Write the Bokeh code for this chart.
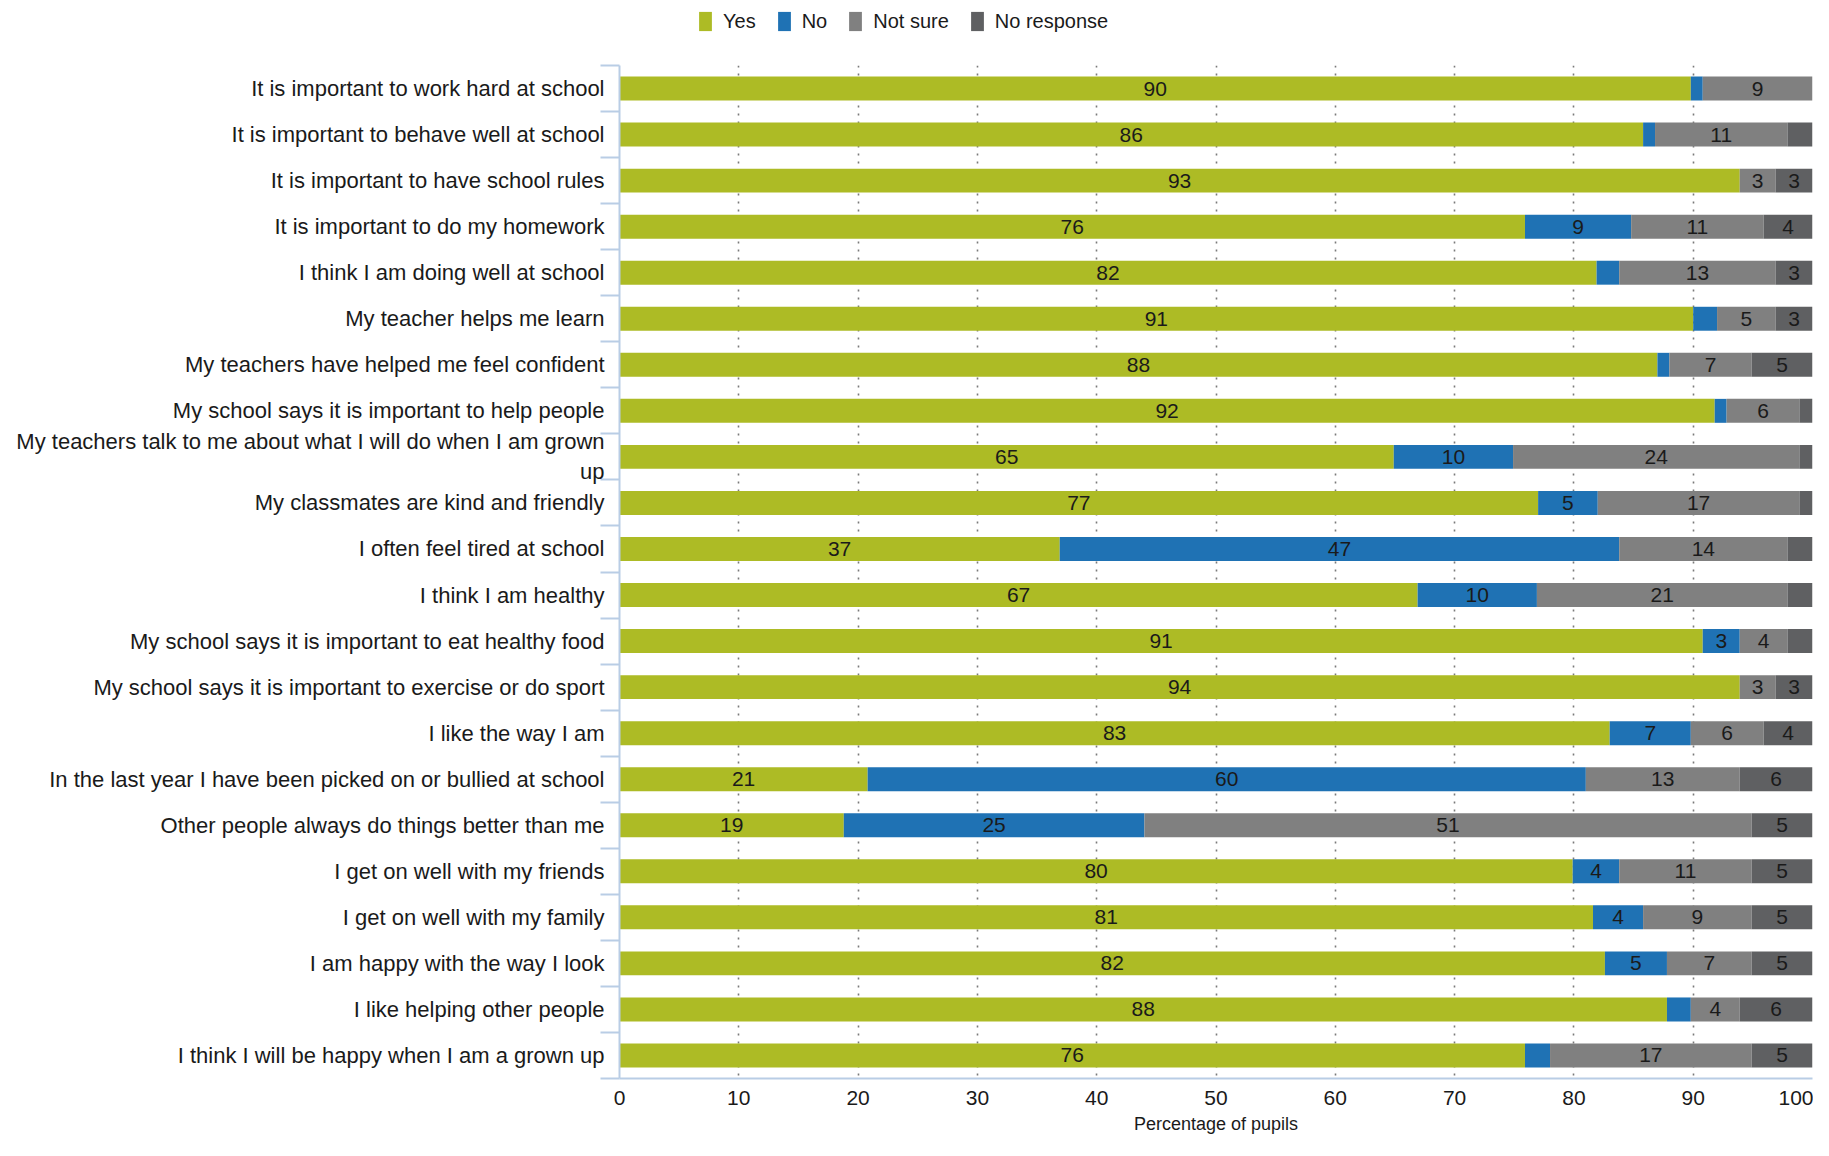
import numpy as np
from bokeh.plotting import figure
from bokeh.layouts import column
from bokeh.models import ColumnDataSource, Range1d, FixedTicker, Legend, LegendItem
from bokeh.core.properties import value
from bokeh.embed import file_html
from bokeh.resources import INLINE

categories = [
    "It is important to work hard at school",
    "It is important to behave well at school",
    "It is important to have school rules",
    "It is important to do my homework",
    "I think I am doing well at school",
    "My teacher helps me learn",
    "My teachers have helped me feel confident",
    "My school says it is important to help people",
    "My teachers talk to me about what I will do when I am grown\nup",
    "My classmates are kind and friendly",
    "I often feel tired at school",
    "I think I am healthy",
    "My school says it is important to eat healthy food",
    "My school says it is important to exercise or do sport",
    "I like the way I am",
    "In the last year I have been picked on or bullied at school",
    "Other people always do things better than me",
    "I get on well with my friends",
    "I get on well with my family",
    "I am happy with the way I look",
    "I like helping other people",
    "I think I will be happy when I am a grown up",
]

yes = [89.8, 85.8, 93.9, 75.9, 81.9, 90.0, 87.0, 91.8, 64.9, 77.0, 36.9,
       66.9, 90.8, 93.9, 83.0, 20.8, 18.8, 79.9, 81.6, 82.6, 87.8, 75.9]
no = [1.0, 1.0, 0.0, 8.9, 1.9, 2.0, 1.0, 1.0, 10.0, 5.0, 46.9,
      10.0, 3.1, 0.0, 6.8, 60.2, 25.2, 3.9, 4.2, 5.2, 2.0, 2.1]
not_sure = [9.2, 11.1, 3.0, 11.1, 13.1, 4.9, 6.9, 6.1, 24.0, 16.9, 14.1,
            21.0, 4.0, 3.0, 6.1, 12.9, 50.9, 11.1, 9.1, 7.1, 4.1, 16.9]
no_response = [0.0, 2.1, 3.1, 4.1, 3.1, 3.1, 5.1, 1.1, 1.1, 1.1, 2.1,
               2.1, 2.1, 3.1, 4.1, 6.1, 5.1, 5.1, 5.1, 5.1, 6.1, 5.1]

yes_labels = [90, 86, 93, 76, 82, 91, 88, 92, 65, 77, 37, 67, 91, 94, 83, 21, 19, 80, 81, 82, 88, 76]
no_labels = [None, None, None, 9, None, None, None, None, 10, 5, 47, 10, 3, None, 7, 60, 25, 4, 4, 5, None, None]
not_sure_labels = [9, 11, 3, 11, 13, 5, 7, 6, 24, 17, 14, 21, 4, 3, 6, 13, 51, 11, 9, 7, 4, 17]
no_response_labels = [None, None, 3, 4, 3, 3, 5, None, None, None, None, None, None, 3, 4, 6, 5, 5, 5, 5, 6, 5]

series_names = ["Yes", "No", "Not sure", "No response"]
x_ticks = [0, 10, 20, 30, 40, 50, 60, 70, 80, 90, 100]

FONT = "Liberation Sans"
AXIS_BLUE = "#b9cde5"
colors = ["#adbb25", "#1f72b4", "#808080", "#5f6062"]

n = len(categories)
idx = list(range(n))

LEG_H = 40
TOTAL_H = 1136

# ---- main chart ----
p = figure(width=1813, height=TOTAL_H - LEG_H,
           x_range=Range1d(0, 100), y_range=Range1d(n - 0.5, -0.5),
           output_backend="svg", toolbar_location=None,
           min_border_left=619, min_border_right=1, min_border_top=65 - LEG_H,
           min_border_bottom=0)
p.outline_line_color = None
p.background_fill_color = "white"

# ---- legend strip ----
lp = figure(width=1813, height=LEG_H, x_range=Range1d(0, 100), y_range=Range1d(n - 0.5, -0.5),
            output_backend="svg", toolbar_location=None,
            x_axis_type=None, y_axis_type=None, min_border=0,
            min_border_left=619, min_border_right=1)
lp.outline_line_color = None
lp.xgrid.visible = False
lp.ygrid.visible = False

series_vals = [yes, no, not_sure, no_response]
series_lbls = [yes_labels, no_labels, not_sure_labels, no_response_labels]

left = np.zeros(n)
leg_items = []
for name, vals, lbls, col in zip(series_names, series_vals, series_lbls, colors):
    v = np.array(vals, dtype=float)
    src = ColumnDataSource(dict(y=idx, left=left, right=left + v))
    p.hbar(y="y", left="left", right="right", height=0.52, source=src,
           fill_color=col, line_color=None)
    # zero-width copy, used only to give the legend its swatch
    rr = lp.hbar(y="y", left="left", right="left", height=0.52, source=src,
                 fill_color=col, line_color=None)
    leg_items.append(LegendItem(label=name, renderers=[rr]))
    mids = left + v / 2
    tx, ty, tt = [], [], []
    for i in range(n):
        if lbls[i] is not None:
            tx.append(mids[i]); ty.append(i); tt.append(str(lbls[i]))
    tsrc = ColumnDataSource(dict(x=tx, y=ty, t=tt))
    p.text(x="x", y="y", text="t", source=tsrc, text_align="center",
           text_baseline="middle", text_font=value(FONT),
           text_font_size="21px", text_color="#1a1a1a")
    left = left + v

legend = Legend(items=leg_items, orientation="horizontal", location=(78, LEG_H - 33),
                glyph_width=16, glyph_height=24, label_text_font=FONT,
                label_text_font_size="20px", label_text_color="#1a1a1a",
                label_standoff=10, spacing=20, padding=0, margin=0,
                border_line_color=None, background_fill_alpha=0)
lp.add_layout(legend)

# grid
p.ygrid.grid_line_color = None
p.xgrid.grid_line_color = "#7a7a7a"
p.xgrid.grid_line_dash = "2 6"
p.xgrid.grid_line_width = 1.6

# x axis
xa = p.xaxis[0]
xa.ticker = FixedTicker(ticks=x_ticks)
xa.major_tick_line_color = None
xa.minor_tick_line_color = None
xa.major_tick_out = 0
xa.major_tick_in = 0
xa.axis_line_color = AXIS_BLUE
xa.axis_line_width = 2
xa.major_label_text_font = FONT
xa.major_label_text_font_size = "21px"
xa.major_label_text_color = "#1a1a1a"
xa.major_label_standoff = 12
xa.axis_label = "Percentage of pupils"
xa.axis_label_text_font = FONT
xa.axis_label_text_font_size = "18px"
xa.axis_label_text_font_style = "normal"
xa.axis_label_text_color = "#1a1a1a"
xa.axis_label_standoff = 6

# y axis
ya = p.yaxis[0]
ya.ticker = FixedTicker(ticks=idx, minor_ticks=[i - 0.5 for i in range(n + 1)])
ya.major_tick_line_color = None
ya.major_tick_out = 0
ya.major_tick_in = 0
ya.minor_tick_line_color = AXIS_BLUE
ya.minor_tick_line_width = 2
ya.minor_tick_out = 19
ya.minor_tick_in = 0
ya.axis_line_color = AXIS_BLUE
ya.axis_line_width = 2
ya.major_label_overrides = {i: c for i, c in enumerate(categories)}
ya.major_label_text_font = FONT
ya.major_label_text_font_size = "22px"
ya.major_label_text_color = "#1a1a1a"
ya.major_label_standoff = -4

layout = column(lp, p, spacing=0)
open("out.html", "w").write(file_html(layout, INLINE))
